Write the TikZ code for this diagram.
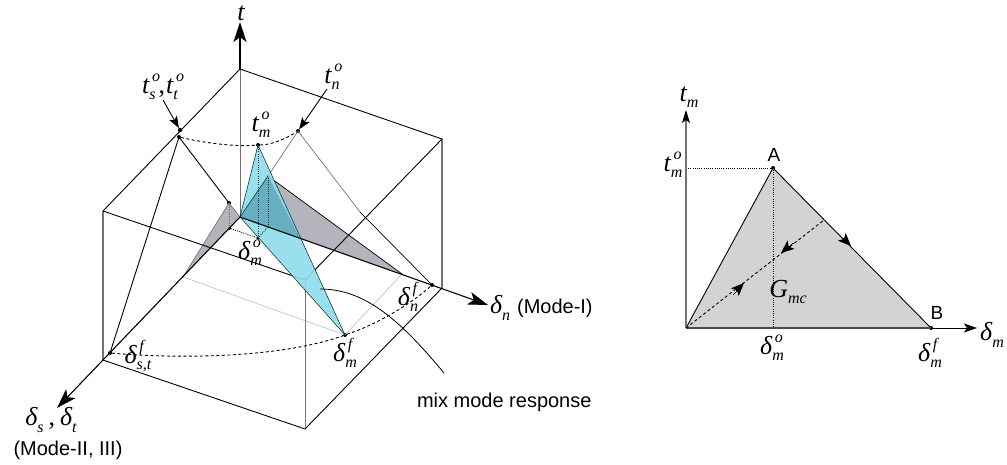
\documentclass[tikz,border=0pt]{standalone}
\usepackage{fontspec}
\setmainfont{Liberation Serif}
\setsansfont{Liberation Sans}
\usetikzlibrary{arrows.meta,calc}
\definecolor{cblue}{HTML}{8FDCEC}
\definecolor{cover}{HTML}{68AFC2}
\definecolor{cgray}{HTML}{B4B4BC}
\definecolor{cpale}{HTML}{D3D3D3}
\newcommand{\lab}[3]{{\itshape\fontsize{26pt}{26pt}\selectfont #1\rlap{\raisebox{0.45em}{\fontsize{16pt}{16pt}\selectfont\,#3}}\raisebox{-0.25em}{\fontsize{16pt}{16pt}\selectfont #2}}}
\newcommand{\labs}[2]{{\itshape\fontsize{26pt}{26pt}\selectfont #1\raisebox{-0.25em}{\fontsize{16pt}{16pt}\selectfont #2}}}
\tikzset{
  x=1pt,y=-1pt,
  every node/.style={inner sep=0pt,outer sep=0pt},
  edge/.style={line width=0.9pt,black},
  greyedge/.style={line width=1.4pt,black!55},
  thin grey/.style={line width=0.5pt,black!30},
  midgrey/.style={line width=0.7pt,black!55},
  bigarrow/.style={line width=1.1pt,-{Stealth[length=20pt,width=13pt,inset=5pt]}},
  medarrow/.style={line width=0.9pt,-{Stealth[length=12pt,width=9pt,inset=3pt]}},
  dashcurve/.style={line width=0.9pt,dash pattern=on 3pt off 2.5pt},
  dotline/.style={line width=0.8pt,dash pattern=on 1pt off 1.2pt},
  pnt/.style={circle,fill=black,minimum size=4.5pt},
  txt/.style={font=\sffamily\fontsize{20pt}{20pt}\selectfont},
}
\begin{document}
\begin{tikzpicture}
\useasboundingbox (0,0) rectangle (1007,464);
% cube corners
\coordinate (O) at (240,217);
\coordinate (TB) at (240,69);
\coordinate (TL) at (103,211);
\coordinate (TR) at (442,139);
\coordinate (TF) at (305,280);
\coordinate (BL) at (103,360);
\coordinate (BR) at (442,288);
\coordinate (BF) at (305,429);
\coordinate (Ttip) at (240,22);
\coordinate (Stip) at (57,408);
\coordinate (Ntip) at (488,305);
\coordinate (P1) at (183,277);
\coordinate (P2) at (402,274);
\coordinate (Q) at (300,238);
\coordinate (Kn) at (360,212);
\node[pnt,minimum size=4pt] (ts) at (179,137) {};
\node[pnt] (ts2) at (180,130) {};
\node[pnt,minimum size=4pt] (tn) at (298,131) {};
\node[pnt,minimum size=4pt] (tm) at (258,145) {};
\node[pnt,minimum size=4pt] (a1) at (229,203) {};
\node[pnt,minimum size=4pt] (a2) at (229,228) {};
\node[pnt,minimum size=3.5pt] (b1) at (268,176) {};
\coordinate (b2) at (268,227);
\node[pnt,minimum size=3.5pt] (c2) at (258,238) {};
\node[pnt,minimum size=4pt] (dm) at (345,335) {};
\node[pnt,minimum size=4pt] (dn) at (432,285) {};
\node[pnt,minimum size=4pt] (ds) at (110,353) {};
% left grey face
\fill[cgray] (a1.center) -- (O) -- (P1) -- cycle;
\draw[midgrey] (a1.center) -- (O);
\draw[midgrey] (a1.center) -- (P1);
% right grey face
\fill[cgray] (b1.center) -- (O) -- (P2) -- cycle;
% cube
\draw[greyedge] (TL) -- (BL);
\draw[greyedge] (TR) -- (BR);
\draw[midgrey,line width=1pt] (O) -- (TB);
\draw[midgrey,line width=1pt] (TF) -- (BF);
\draw[edge] (TL) -- (TB) -- (TR) -- (TF) -- (TL);
\draw[edge] (BL) -- (BF) -- (BR);
% response lines
\draw[edge] (ts.center) -- (a1.center);
\draw[edge] (ts.center) -- (ds.center);
\draw[midgrey] (tn.center) -- (b1.center);
\draw[midgrey] (tn.center) -- (Kn);
\draw[edge,line width=.7pt] (Kn) -- (dn.center);
\draw[edge,line width=.7pt] (b1.center) -- (P2);
\draw[thin grey] (P1) -- (dm.center);
\draw[thin grey] (P2) -- (dm.center);
% blue face
\fill[cblue,opacity=.9] (tm.center) -- (O) -- (dm.center) -- cycle;
\fill[cover] (b1.center) -- (O) -- (Q) -- cycle;
\draw[line width=.5pt,black!70!teal] (tm.center) -- (dm.center);
\draw[line width=.5pt,black!70!teal] (tm.center) -- (O);
\draw[line width=.5pt,black!70!teal] (O) -- (dm.center);
\draw[line width=.5pt,black!70!teal] (b1.center) -- (O);
% axes
\draw[bigarrow] (TB) -- (Ttip);
\draw[bigarrow] (O) -- (Stip);
\draw[bigarrow] (O) -- (Ntip);
% dotted
\draw[dotline,black!60] (a1) -- (a2);
\draw[dotline,black!60!teal] (tm) -- (c2);
\draw[dotline,black!60!teal] (b1) -- (b2);
\draw[dotline] (a2) -- (c2);
\draw[dotline,black!60!teal] (c2) -- (b2);
% dashed arcs
\draw[dashcurve] (ts) .. controls (205,143) and (235,147) .. (tm) .. controls (272,145) and (287,138) .. (tn);
\draw[dashcurve] (ds) .. controls (180,359) and (280,358) .. (dm) .. controls (375,325) and (410,305) .. (dn);
% mix curve
\coordinate (mx1) at (320,289);
\coordinate (mx2) at (444,373);
\draw[edge,line width=.8pt] (mx1) .. controls (365,289) and (400,320) .. (mx2);
% leader arrows
\coordinate (lts) at (163,100);
\coordinate (ltn) at (327,89);
\draw[medarrow] (lts) -- (ts2);
\draw[medarrow] (ltn) -- (tn);
% labels left
\node (lt) at (241,13) {\itshape\fontsize{26pt}{26pt}\selectfont t};
\node (ltso) at (160,87) {\lab{t}{s}{o}\hspace{3pt}{\fontsize{26pt}{26pt}\selectfont,}\hspace{1pt}\lab{t}{t}{o}};
\node (ltno) at (332,77) {\lab{t}{n}{o}};
\node (ltmo) at (261,125) {\lab{t}{m}{o}};
\node (ldmo) at (250,253) {\lab{δ}{m}{o}};
\node (ldst) at (138,356) {\lab{δ}{s,t}{f}};
\node (ldsdt) at (51,420) {\labs{δ}{s}\hspace{5pt}{\fontsize{26pt}{26pt}\selectfont ,}\hspace{5pt}\labs{δ}{t}};
\node[txt] (lm23) at (68,450) {(Mode-II, III)};
\node[anchor=west] (ldn) at (490,308) {\labs{δ}{n}\hspace{7pt}\textsf{\fontsize{20pt}{20pt}\selectfont (Mode-I)}};
\node (ldnf) at (408,297) {\lab{δ}{n}{f}};
\node (ldmf) at (345,353) {\lab{δ}{m}{f}};
\node[txt,anchor=west] (lmix) at (417,402) {mix mode response};
% right diagram
\coordinate (RO) at (686,328);
\coordinate (RT) at (686,110);
\coordinate (RX) at (977,328);
\node[pnt,minimum size=4pt] (A) at (773,168) {};
\node[pnt,minimum size=4pt] (B) at (931,328) {};
\coordinate (RA1) at (686,168);
\coordinate (RA2) at (773,328);
\coordinate (Rd) at (824,220);
\fill[cpale] (RO) -- (A.center) -- (B.center) -- cycle;
\draw[edge] (RO) -- (A.center) -- (B.center);
\draw[greyedge,black!70] (RO) -- (B.center);
\draw[dotline] (RA1) -- (A);
\draw[dotline] (A) -- (RA2);
\coordinate (RTb) at (686,118);
\draw[greyedge,black!55] (RO) -- (RTb);
\draw[line width=.9pt,-{Stealth[length=13pt,width=8pt,inset=3pt]}] (RTb) -- (RT);
\draw[line width=.9pt,-{Stealth[length=13pt,width=9pt,inset=3pt]}] (B.center) -- (RX);
\draw[dashcurve] (RO) -- (Rd);
\coordinate (m1a) at (733,294);
\coordinate (m1b) at (744,283);
\coordinate (m2a) at (793,243);
\coordinate (m2b) at (781,253);
\coordinate (m3a) at (843,238);
\coordinate (m3b) at (851,246);
\draw[line width=0pt,-{Stealth[length=13pt,width=11pt,inset=3pt]}] (m1a) -- (m1b);
\draw[line width=0pt,-{Stealth[length=13pt,width=11pt,inset=3pt]}] (m2a) -- (m2b);
\draw[line width=0pt,-{Stealth[length=13pt,width=11pt,inset=3pt]}] (m3a) -- (m3b);
\node (Rtm) at (689,97) {\labs{t}{m}};
\node (Rtmo) at (673,165) {\lab{t}{m}{o}};
\node[font=\sffamily\fontsize{19pt}{19pt}\selectfont] (RAl) at (774,155) {A};
\node[font=\sffamily\fontsize{19pt}{19pt}\selectfont] (RBl) at (937,313) {B};
\node (Rdm) at (992,335) {\labs{δ}{m}};
\node (Rdmo) at (772,348) {\lab{δ}{m}{o}};
\node (Rdmf) at (930,353) {\lab{δ}{m}{f}};
\node (RG) at (788,292) {\labs{G}{mc}};
\end{tikzpicture}
\end{document}
